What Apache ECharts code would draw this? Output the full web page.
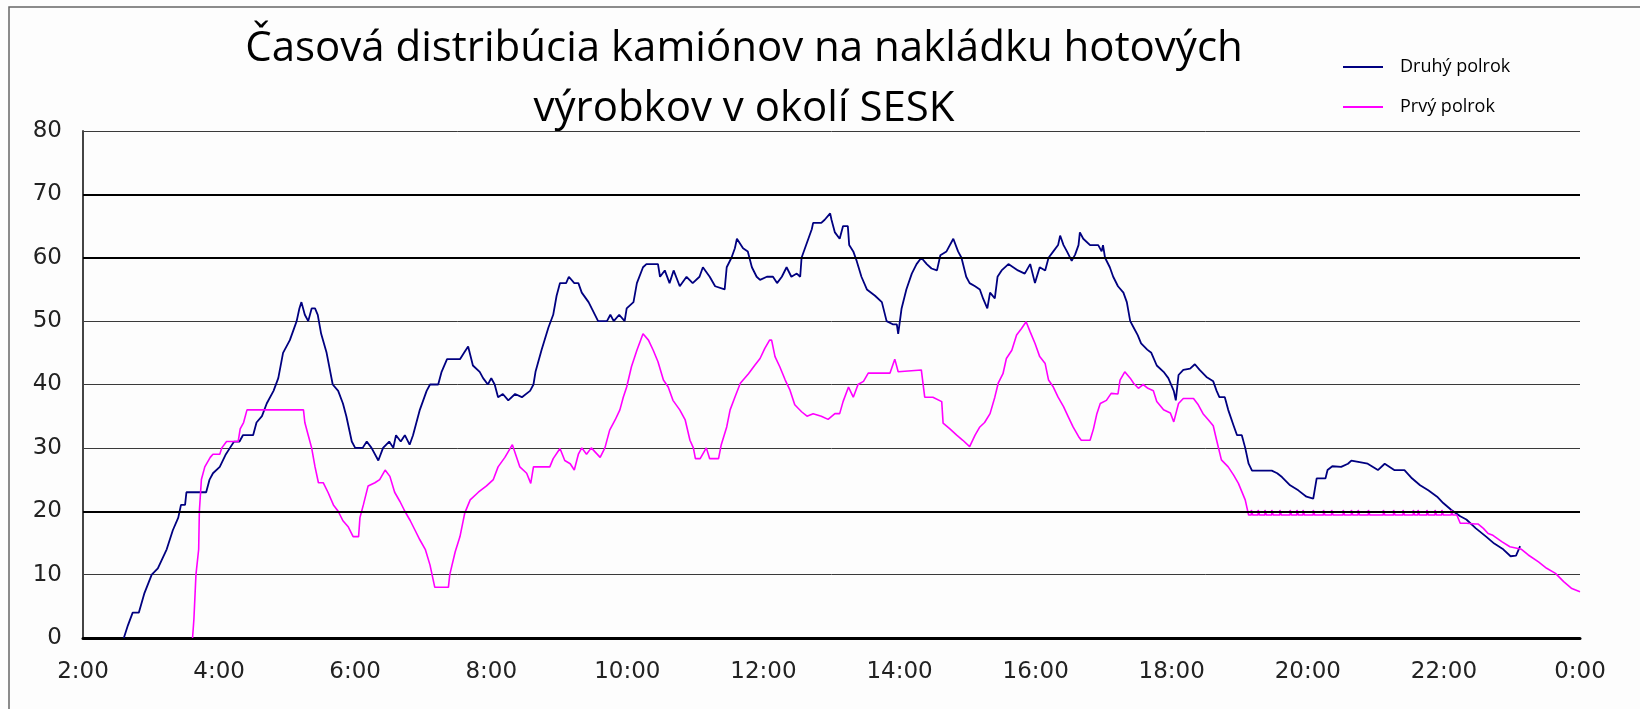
<!DOCTYPE html>
<html>
<head>
<meta charset="utf-8">
<title>Časová distribúcia kamiónov</title>
<script src="https://cdn.jsdelivr.net/npm/echarts@6/dist/echarts.min.js"></script>
<style>
  html, body { margin: 0; padding: 0; background: #fdfdfd; }
  #chart { width: 1640px; height: 709px; }
</style>
</head>
<body>
<div id="chart"></div>
<script>
// time in hours (24 = midnight), value = number of trucks
var druhyPolrok = [
  [2.60, 0], [2.66, 2], [2.73, 4], [2.82, 4], [2.90, 7], [3.01, 10], [3.10, 11],
  [3.23, 14], [3.32, 17], [3.40, 19], [3.44, 21], [3.50, 21], [3.52, 23], [3.81, 23],
  [3.86, 25], [3.91, 26], [4.01, 27], [4.10, 29], [4.16, 30], [4.22, 31], [4.30, 31],
  [4.35, 32], [4.50, 32], [4.55, 34], [4.63, 35], [4.70, 37], [4.80, 39], [4.87, 41],
  [4.94, 45], [5.04, 47], [5.14, 50], [5.18, 52], [5.21, 53], [5.26, 51], [5.31, 50],
  [5.36, 52], [5.41, 52], [5.45, 51], [5.50, 48], [5.58, 45], [5.67, 40], [5.75, 39],
  [5.82, 37], [5.87, 35], [5.95, 31], [6.00, 30], [6.11, 30], [6.17, 31], [6.24, 30],
  [6.34, 28], [6.41, 30], [6.50, 31], [6.56, 30], [6.60, 32], [6.67, 31], [6.73, 32],
  [6.80, 30.5], [6.85, 32], [6.95, 36], [7.05, 39], [7.10, 40], [7.22, 40], [7.27, 42],
  [7.35, 44], [7.54, 44], [7.60, 45], [7.66, 46], [7.73, 43], [7.83, 42], [7.88, 41],
  [7.95, 40], [8.00, 41], [8.05, 40], [8.10, 38], [8.17, 38.5], [8.25, 37.5], [8.35, 38.5],
  [8.45, 38], [8.57, 39], [8.62, 40], [8.65, 42], [8.74, 45.5], [8.84, 49], [8.91, 51],
  [8.96, 54], [9.01, 56], [9.10, 56], [9.14, 57], [9.22, 56], [9.28, 56], [9.33, 54.5],
  [9.43, 53], [9.50, 51.5], [9.57, 50], [9.70, 50], [9.75, 51], [9.80, 50], [9.88, 51],
  [9.96, 50], [9.99, 52], [10.09, 53], [10.14, 56], [10.23, 58.5], [10.28, 59], [10.45, 59],
  [10.48, 57], [10.55, 58], [10.62, 56], [10.68, 58], [10.77, 55.5], [10.87, 57], [10.96, 56],
  [11.06, 57], [11.11, 58.5], [11.21, 57], [11.29, 55.5], [11.43, 55], [11.46, 58.5],
  [11.53, 60], [11.58, 61.5], [11.61, 63], [11.70, 61.5], [11.77, 61], [11.83, 58.5],
  [11.90, 57], [11.95, 56.5], [12.05, 57], [12.14, 57], [12.20, 56], [12.27, 57], [12.34, 58.5],
  [12.41, 57], [12.49, 57.5], [12.54, 57], [12.56, 60], [12.61, 61.5], [12.66, 63],
  [12.71, 64.5], [12.73, 65.5], [12.85, 65.5], [12.90, 66], [12.98, 67], [13.00, 66],
  [13.05, 64], [13.12, 63], [13.17, 65], [13.24, 65], [13.26, 62], [13.32, 61], [13.37, 59.5],
  [13.44, 57], [13.52, 55], [13.64, 54], [13.74, 53], [13.81, 50], [13.90, 49.5], [13.96, 49.5],
  [13.98, 48], [14.03, 52], [14.10, 55], [14.18, 57.5], [14.25, 59], [14.32, 60], [14.40, 59],
  [14.47, 58.3], [14.55, 58], [14.60, 60.4], [14.69, 61], [14.79, 63], [14.86, 61], [14.91, 60],
  [14.98, 57], [15.03, 56], [15.11, 55.5], [15.18, 55], [15.23, 53.5], [15.29, 52], [15.33, 54.5],
  [15.40, 53.6], [15.44, 57], [15.50, 58], [15.60, 59], [15.74, 58], [15.84, 57.5], [15.92, 59],
  [15.99, 56], [16.06, 58.5], [16.14, 58], [16.19, 60], [16.26, 61], [16.33, 62], [16.36, 63.5],
  [16.41, 62], [16.46, 61], [16.53, 59.5], [16.58, 60.5], [16.63, 62], [16.65, 64], [16.70, 63],
  [16.80, 62], [16.92, 62], [16.97, 61], [16.99, 62], [17.02, 60], [17.09, 58.5], [17.14, 57],
  [17.21, 55.5], [17.29, 54.5], [17.34, 53], [17.39, 50], [17.44, 49], [17.50, 47.8],
  [17.55, 46.5], [17.64, 45.5], [17.70, 45], [17.78, 43], [17.88, 42], [17.95, 41], [18.03, 39],
  [18.06, 37.5], [18.10, 41.5], [18.17, 42.3], [18.27, 42.5], [18.34, 43.2], [18.41, 42.3],
  [18.51, 41.2], [18.61, 40.5], [18.66, 39], [18.70, 38], [18.78, 38], [18.83, 36], [18.91, 33.5],
  [18.96, 32], [19.03, 32], [19.08, 30], [19.13, 27.5], [19.18, 26.4], [19.47, 26.4], [19.55, 26],
  [19.62, 25.4], [19.74, 24.1], [19.86, 23.3], [19.98, 22.3], [20.08, 22], [20.13, 25.2],
  [20.26, 25.2], [20.29, 26.5], [20.36, 27.1], [20.49, 27], [20.59, 27.5], [20.64, 28],
  [20.88, 27.5], [21.03, 26.5], [21.13, 27.5], [21.27, 26.5], [21.42, 26.5], [21.53, 25.2],
  [21.65, 24.1], [21.77, 23.3], [21.90, 22.3], [21.99, 21.3], [22.11, 20.2], [22.24, 19.2],
  [22.33, 18.7], [22.47, 17.3], [22.62, 16], [22.74, 14.9], [22.86, 14.1], [22.98, 12.9],
  [23.06, 13], [23.12, 14.5]
];

var prvyPolrok = [
  [3.61, 0], [3.63, 3], [3.66, 10], [3.70, 14], [3.71, 20], [3.74, 25], [3.79, 27], [3.87, 28.5],
  [3.91, 29], [4.01, 29], [4.04, 30], [4.11, 31], [4.28, 31], [4.31, 33], [4.36, 34], [4.41, 36],
  [5.24, 36], [5.26, 34], [5.31, 32], [5.36, 30], [5.41, 27], [5.46, 24.5], [5.53, 24.5],
  [5.60, 23], [5.68, 21], [5.75, 20], [5.82, 18.5], [5.90, 17.5], [5.97, 16], [6.05, 16],
  [6.07, 19], [6.12, 21], [6.19, 24], [6.29, 24.5], [6.36, 25], [6.44, 26.5], [6.51, 25.5],
  [6.58, 23], [6.66, 21.5], [6.73, 20], [6.81, 18.5], [6.88, 17], [6.95, 15.5], [7.03, 14],
  [7.10, 11.5], [7.17, 8], [7.37, 8], [7.39, 10], [7.47, 13.6], [7.54, 16], [7.61, 19.7],
  [7.69, 21.8], [7.81, 23], [7.93, 24], [8.03, 25], [8.10, 27], [8.20, 28.5], [8.31, 30.5],
  [8.42, 27], [8.52, 26], [8.58, 24.4], [8.62, 27], [8.86, 27], [8.91, 28.3], [9.01, 29.9],
  [9.08, 28], [9.16, 27.5], [9.22, 26.5], [9.28, 29], [9.33, 30], [9.40, 29], [9.47, 30],
  [9.60, 28.5], [9.67, 30], [9.74, 32.8], [9.82, 34.4], [9.89, 36], [9.94, 38], [9.99, 39.6],
  [10.06, 42.8], [10.14, 45.4], [10.23, 48], [10.31, 47], [10.38, 45.4], [10.45, 43.6],
  [10.53, 40.7], [10.60, 39.6], [10.67, 37.5], [10.77, 36], [10.85, 34.4], [10.92, 31.2],
  [10.97, 30], [11.00, 28.3], [11.07, 28.3], [11.16, 30], [11.21, 28.3], [11.34, 28.3],
  [11.38, 30.5], [11.46, 33.3], [11.51, 36], [11.58, 38], [11.66, 40.2], [11.78, 41.7],
  [11.87, 43], [11.95, 44.1], [12.02, 45.7], [12.09, 47], [12.12, 47], [12.17, 44.4],
  [12.24, 42.8], [12.32, 40.7], [12.39, 39.1], [12.46, 36.8], [12.56, 35.7], [12.64, 35],
  [12.73, 35.4], [12.85, 35], [12.95, 34.5], [13.05, 35.4], [13.12, 35.4], [13.17, 37.3],
  [13.25, 39.6], [13.32, 38], [13.39, 40], [13.47, 40.5], [13.54, 41.8], [13.86, 41.8],
  [13.93, 44], [13.98, 42], [14.32, 42.3], [14.37, 38], [14.49, 38], [14.62, 37.3], [14.64, 33.9],
  [14.74, 33], [14.84, 32], [14.93, 31.2], [15.03, 30.2], [15.11, 32], [15.18, 33.3], [15.25, 34],
  [15.33, 35.4], [15.40, 38], [15.45, 40.2], [15.52, 41.7], [15.57, 44.1], [15.65, 45.4],
  [15.72, 47.8], [15.79, 48.8], [15.86, 49.9], [15.92, 48.3], [15.99, 46.5], [16.06, 44.4],
  [16.14, 43.3], [16.19, 40.7], [16.26, 39.6], [16.33, 38], [16.41, 36.5], [16.48, 34.9],
  [16.55, 33.3], [16.63, 31.8], [16.67, 31.2], [16.80, 31.2], [16.85, 33], [16.90, 35.4],
  [16.95, 37], [17.04, 37.5], [17.11, 38.6], [17.21, 38.5], [17.24, 40.7], [17.31, 42],
  [17.39, 41], [17.44, 40.2], [17.51, 39.4], [17.58, 40], [17.65, 39.4], [17.73, 39],
  [17.78, 37.3], [17.88, 36], [17.98, 35.5], [18.03, 34.1], [18.10, 37], [18.17, 37.8],
  [18.32, 37.8], [18.39, 36.8], [18.46, 35.4], [18.54, 34.4], [18.61, 33.5], [18.66, 31.2],
  [18.73, 28.1], [18.83, 27], [18.91, 25.7], [18.98, 24.4], [19.03, 23.1], [19.08, 21.8],
  [19.13, 19.4],
  // flat stretch with the small bumps
  [19.17, 19.4], [19.17, 20.2], [19.19, 20.2], [19.19, 19.4],
  [19.27, 19.4], [19.27, 20.2], [19.29, 20.2], [19.29, 19.4],
  [19.37, 19.4], [19.37, 20.2], [19.39, 20.2], [19.39, 19.4],
  [19.47, 19.4], [19.47, 20.2], [19.49, 20.2], [19.49, 19.4],
  [19.59, 19.4], [19.59, 20.2], [19.61, 20.2], [19.61, 19.4],
  [19.74, 19.4], [19.74, 20.2], [19.76, 20.2], [19.76, 19.4],
  [19.84, 19.4], [19.84, 20.2], [19.86, 20.2], [19.86, 19.4],
  [19.93, 19.4], [19.93, 20.2], [19.95, 20.2], [19.95, 19.4],
  [20.08, 19.4], [20.08, 20.2], [20.10, 20.2], [20.10, 19.4],
  [20.23, 19.4], [20.23, 20.2], [20.25, 20.2], [20.25, 19.4],
  [20.35, 19.4], [20.35, 20.2], [20.37, 20.2], [20.37, 19.4],
  [20.52, 19.4], [20.52, 20.2], [20.54, 20.2], [20.54, 19.4],
  [20.64, 19.4], [20.64, 20.2], [20.66, 20.2], [20.66, 19.4],
  [20.74, 19.4], [20.74, 20.2], [20.76, 20.2], [20.76, 19.4],
  [20.89, 19.4], [20.89, 20.2], [20.91, 20.2], [20.91, 19.4],
  [21.11, 19.4], [21.11, 20.2], [21.13, 20.2], [21.13, 19.4],
  [21.26, 19.4], [21.26, 20.2], [21.28, 20.2], [21.28, 19.4],
  [21.40, 19.4], [21.40, 20.2], [21.42, 20.2], [21.42, 19.4],
  [21.55, 19.4], [21.55, 20.2], [21.57, 20.2], [21.57, 19.4],
  [21.62, 19.4], [21.62, 20.2], [21.64, 20.2], [21.64, 19.4],
  [21.75, 19.4], [21.75, 20.2], [21.77, 20.2], [21.77, 19.4],
  [21.87, 19.4], [21.87, 20.2], [21.89, 20.2], [21.89, 19.4],
  [21.97, 19.4], [21.97, 20.2], [21.99, 20.2], [21.99, 19.4],
  [22.11, 19.4], [22.11, 20.2], [22.13, 20.2], [22.13, 19.4],
  [22.19, 19.4], [22.24, 18.1], [22.33, 18.1], [22.46, 18], [22.50, 18], [22.58, 17.3],
  [22.65, 16.5], [22.72, 16.2], [22.85, 15.2], [22.97, 14.4], [23.14, 14], [23.24, 13.1],
  [23.39, 12], [23.51, 11], [23.64, 10.2], [23.76, 8.9], [23.88, 7.8], [24.00, 7.3]
];

var seriesNames = ['Druhý polrok', 'Prvý polrok'];
var seriesColors = ['#000080', '#ff00ff'];
var titleLines = ['Časová distribúcia kamiónov na nakládku hotových', 'výrobkov v okolí SESK'];
var boldGridValues = [20, 60, 70];

var chart = echarts.init(document.getElementById('chart'));

var option = {
  backgroundColor: '#fdfdfd',
  animation: false,
  title: {
    text: titleLines.join('\n'),
    left: 744,
    top: 19,
    padding: 0,
    textAlign: 'center',
    textStyle: {
      fontFamily: 'Open Sans',
      fontSize: 42,
      fontWeight: 'normal',
      color: '#000',
      lineHeight: 60
    }
  },
  legend: {
    orient: 'vertical',
    left: 1343,
    top: 58,
    padding: 0,
    itemWidth: 40,
    itemHeight: 2,
    itemGap: 22,
    icon: 'rect',
    textStyle: { fontFamily: 'Open Sans', fontSize: 18, color: '#000', padding: [0, 0, 0, 12] },
    data: seriesNames
  },
  grid: { left: 83, right: 60, top: 131, bottom: 71, containLabel: false, outerBoundsMode: 'none' },
  xAxis: {
    type: 'value',
    min: 2,
    max: 24,
    interval: 2,
    axisLine: { show: true, onZero: true, lineStyle: { color: '#000', width: 3 } },
    axisTick: { show: false },
    splitLine: { show: false },
    axisLabel: {
      margin: 23,
      fontFamily: 'DejaVu Sans',
      fontSize: 23,
      color: '#222',
      formatter: function (v) { return (v % 24) + ':00'; }
    }
  },
  yAxis: {
    type: 'value',
    min: 0,
    max: 80,
    interval: 10,
    axisLine: { show: true, lineStyle: { color: '#444', width: 2 } },
    axisTick: { show: false },
    axisLabel: { margin: 21, fontFamily: 'DejaVu Sans', fontSize: 23, color: '#222' },
    splitLine: { show: true, lineStyle: { color: '#3a3a3a', width: 1 } }
  },
  graphic: [{
    type: 'rect',
    shape: { x: 9, y: 7, width: 1700, height: 800 },
    style: { fill: 'none', stroke: '#666', lineWidth: 1.5 },
    silent: true
  }],
  series: [
    {
      // heavier grid lines at 20, 60, 70
      type: 'line',
      data: [],
      z: 1,
      silent: true,
      markLine: {
        silent: true,
        symbol: 'none',
        label: { show: false },
        lineStyle: { color: '#000', width: 2, type: 'solid' },
        data: boldGridValues.map(function (v) { return { yAxis: v }; })
      }
    },
    {
      name: seriesNames[0],
      type: 'line',
      data: druhyPolrok,
      showSymbol: false,
      z: 3,
      color: seriesColors[0],
      lineStyle: { color: seriesColors[0], width: 1.8 }
    },
    {
      name: seriesNames[1],
      type: 'line',
      data: prvyPolrok,
      showSymbol: false,
      z: 3,
      color: seriesColors[1],
      lineStyle: { color: seriesColors[1], width: 1.6 }
    }
  ]
};

chart.setOption(option);
</script>
</body>
</html>
